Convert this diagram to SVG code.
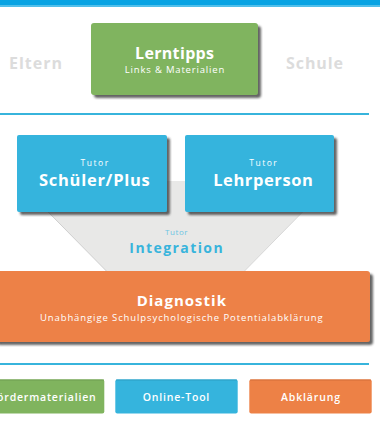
<svg xmlns="http://www.w3.org/2000/svg" width="380" height="421" viewBox="0 0 380 421">
  <style>
    .t { font-family: "Open Sans", "DejaVu Sans", sans-serif; fill: #ffffff; text-anchor: middle; }
    .b { font-weight: 700; }
    .m { font-weight: 600; }
    .side { font-family: "Open Sans", "DejaVu Sans", sans-serif; font-weight: 700; font-size: 16px; fill: #dcdcdc; }
    .sep { stroke: #37b4dc; stroke-width: 2; }
    .green { fill: #80b45e; }
    .blue { fill: #35b4dd; }
    .orange { fill: #ed8146; }
  </style>
  <defs>
    <filter id="shadow" x="-10%" y="-10%" width="130%" height="140%">
      <feDropShadow dx="3" dy="3" stdDeviation="1" flood-color="#333333" flood-opacity="0.75"/>
    </filter>
  </defs>

  <rect width="380" height="421" fill="#ffffff"/>

  <!-- header bar -->
  <rect x="0" y="0" width="380" height="5" fill="#08a3e3"/>
  <rect x="0" y="5" width="380" height="2" fill="#52bfea"/>

  <!-- side labels -->
  <text class="side" x="9" y="69" textLength="53" lengthAdjust="spacing">Eltern</text>
  <text class="side" x="286" y="69" textLength="57" lengthAdjust="spacing">Schule</text>

  <!-- Lerntipps -->
  <g id="lerntipps">
    <rect x="91" y="23" width="167" height="72" rx="3" class="green" filter="url(#shadow)"/>
    <text class="t b" x="174.5" y="59" font-size="16" textLength="79" lengthAdjust="spacing">Lerntipps</text>
    <text class="t" x="174.5" y="73" font-size="9.5" textLength="99.5" lengthAdjust="spacing">Links &amp; Materialien</text>
  </g>

  <!-- separators -->
  <g id="connectors">
    <line class="sep" x1="0" y1="114" x2="369" y2="114"/>
    <line class="sep" x1="0" y1="364" x2="369" y2="364"/>
  </g>

  <!-- Integration funnel -->
  <g id="integration">
    <polygon points="17.6,181 333,181 216,300 135,300" fill="#e8e8e7"/>
    <line x1="17.6" y1="181" x2="135" y2="300" stroke="#cfcfcf" stroke-width="1"/>
    <line x1="333" y1="181" x2="216" y2="300" stroke="#d8d8d8" stroke-width="1"/>
    <text class="t" x="176.3" y="235.3" font-size="8" fill="#6cc5e3" style="fill:#6cc5e3" textLength="22.7" lengthAdjust="spacing">Tutor</text>
    <text class="t b" x="176" y="252.7" font-size="14" style="fill:#38b4dc" textLength="93.3" lengthAdjust="spacing">Integration</text>
  </g>

  <!-- Tutor boxes -->
  <g id="schueler">
    <rect x="17" y="135" width="150" height="77" rx="2" class="blue" filter="url(#shadow)"/>
    <text class="t" x="94.4" y="166" font-size="8.5" textLength="27.7" lengthAdjust="spacing">Tutor</text>
    <text class="t b" x="94.4" y="186" font-size="16.5" textLength="110.7" lengthAdjust="spacing">Schüler/Plus</text>
  </g>
  <g id="lehrperson">
    <rect x="185" y="135" width="149" height="77" rx="2" class="blue" filter="url(#shadow)"/>
    <text class="t" x="263" y="166" font-size="8.5" textLength="27.7" lengthAdjust="spacing">Tutor</text>
    <text class="t b" x="263" y="186" font-size="16.5" textLength="99.7" lengthAdjust="spacing">Lehrperson</text>
  </g>

  <!-- Diagnostik -->
  <g id="diagnostik">
    <rect x="-6" y="271" width="376" height="71" rx="3" class="orange" filter="url(#shadow)"/>
    <text class="t b" x="181.3" y="306.3" font-size="15" textLength="89.3" lengthAdjust="spacing">Diagnostik</text>
    <text class="t" x="181.3" y="321" font-size="9.5" textLength="282.7" lengthAdjust="spacing">Unabhängige Schulpsychologische Potentialabklärung</text>
  </g>

  <!-- bottom buttons -->
  <g id="foerdermaterialien">
    <rect x="-18" y="379.5" width="122.3" height="34" rx="2" class="green"/>
    <line x1="-18" y1="380" x2="104" y2="380" stroke="#6f9e51" stroke-width="1"/>
    <text class="t m" x="43.2" y="401" font-size="10.5" textLength="105" lengthAdjust="spacing">Fördermaterialien</text>
  </g>
  <g id="online-tool">
    <rect x="115.3" y="379.5" width="122.4" height="34" rx="2" class="blue"/>
    <line x1="116" y1="380" x2="237" y2="380" stroke="#2c9ec4" stroke-width="1"/>
    <text class="t m" x="176" y="401" font-size="10.5" textLength="66.6" lengthAdjust="spacing">Online-Tool</text>
  </g>
  <g id="abklaerung">
    <rect x="249.3" y="379.5" width="122.4" height="34" rx="2" class="orange"/>
    <line x1="250" y1="380" x2="371" y2="380" stroke="#d46f38" stroke-width="1"/>
    <text class="t m" x="310.5" y="401" font-size="10.5" textLength="59" lengthAdjust="spacing">Abklärung</text>
  </g>
</svg>
